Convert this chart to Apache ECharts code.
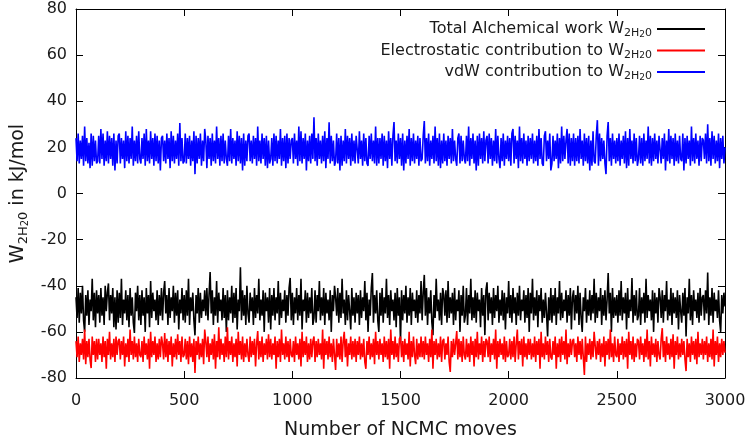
<!DOCTYPE html>
<html>
<head>
<meta charset="utf-8">
<script src="https://cdn.jsdelivr.net/npm/echarts@6/dist/echarts.min.js"></script>
<style>
html,body{margin:0;padding:0;background:#fff;}
#chart{width:747px;height:435px;}
</style>
</head>
<body>
<div id="chart"></div>
<script>
// Values read every 5 NCMC moves (index i -> move i*moveStep)
const moveStep = 5;

const totalWork = [
-45,-54,-41,-56,-43,-52,-40,-55,-60,-44,-53,-42,-57,-46,-51,-37,-55,-43,-58,-42,
-52,-44,-56,-41,-53,-45,-57,-40,-51,-43,-39,-55,-44,-52,-41,-58,-45,-59,-42,-56,
-43,-54,-37,-57,-46,-52,-42,-55,-44,-58,-41,-53,-45,-56,-60.5,-43,-51,-40,-55,-44,
-57,-42,-53,-45,-60,-41,-52,-44,-58,-38,-54,-43,-51,-46,-55,-42,-57,-44,-53,-41,
-55,-43,-38,-52,-44,-57,-41,-54,-45,-51,-40,-56,-43,-53,-42,-59,-46,-52,-41,-55,
-44,-56,-42,-53,-37,-57,-45,-51,-43,-55,-61.5,-44,-52,-41,-56,-43,-54,-46,-51,-42,
-53,-41,-55,-44,-34,-52,-42,-57,-45,-53,-38,-56,-43,-51,-46,-55,-41,-54,-44,-60,
-42,-55,-45,-52,-40,-56,-43,-54,-41,-59,-46,-51,-32,-55,-42,-53,-44,-57,-40,-52,
-56,-43,-51,-45,-57,-41,-54,-44,-52,-37,-55,-46,-53,-42,-60,-43,-51,-45,-56,-41,
-59,-44,-53,-41,-55,-45,-52,-38,-57,-43,-54,-46,-51,-42,-56,-44,-53,-41,-36.6,-55,
-43,-57,-45,-52,-41,-55,-44,-53,-37,-59,-46,-51,-42,-56,-43,-54,-45,-52,-41,-57,
-54,-42,-56,-44,-51,-38,-55,-45,-53,-41,-57,-43,-52,-46,-55,-42,-60,-44,-51,-40,
-45,-53,-41,-56,-43,-54,-37,-52,-46,-57,-42,-55,-44,-51,-59,-41,-53,-45,-56,-43,
-52,-44,-57,-42,-54,-45,-51,-38,-55,-43,-60,-46,-53,-41,-34.5,-56,-44,-52,-42,-55,
-60,-43,-53,-41,-56,-45,-52,-37,-54,-44,-57,-42,-51,-46,-55,-43,-58,-41,-53,-45,
-64.4,-42,-55,-44,-52,-40,-56,-45,-53,-41,-57,-43,-51,-46,-54,-42,-56,-44,-52,-38,
-55,-43,-35.3,-53,-41,-57,-45,-52,-42,-56,-61.4,-44,-54,-37,-51,-46,-55,-43,-57,-41,
-44,-53,-42,-56,-38,-54,-45,-52,-43,-57,-41,-55,-46,-51,-42,-60,-44,-53,-40,-56,
-53,-41,-57,-44,-52,-37,-55,-45,-54,-42,-56,-43,-51,-46,-58,-41,-53,-44,-61.4,-42,
-38.5,-55,-43,-52,-45,-57,-41,-54,-44,-51,-40,-56,-46,-53,-42,-55,-43,-59,-45,-52,
-38,-54,-44,-56,-41,-52,-45,-57,-43,-53,-40,-55,-46,-51,-42,-56,-44,-54,-41,-60,
-43,-52,-37,-55,-45,-53,-42,-58,-44,-51,-41,-56,-46,-54,-43,-52,-62,-45,-55,-41,
-56,-44,-53,-41,-57,-45,-52,-38,-55,-43,-54,-46,-51,-42,-56,-44,-53,-41,-59,-45,
-42,-55,-44,-52,-40,-57,-43,-54,-60,-45,-51,-41,-56,-46,-53,-42,-55,-44,-52,-37,
-56,-43,-54,-45,-51,-41,-57,-44,-53,-42,-55,-46,-34.5,-52,-43,-60,-41,-54,-45,-53,
-44,-56,-42,-53,-38,-55,-45,-52,-43,-59,-41,-54,-46,-51,-36.6,-56,-44,-53,-42,-55,
-53,-41,-57,-45,-52,-43,-56,-37,-54,-44,-51,-46,-55,-42,-60,-43,-52,-45,-56,-41,
-45,-54,-42,-56,-44,-51,-38,-55,-46,-53,-41,-57,-43,-52,-45,-54,-42,-59,-44,-51,
-56,-43,-53,-41,-62,-45,-52,-37,-55,-44,-57,-42,-51,-46,-54,-43,-56,-41,-53,-45,
-44,-55,-42,-52,-34.3,-57,-45,-53,-41,-56,-43,-51,-46,-54,-42,-55,-60,-44,-52,-43,
-49];

const electrostatic = [
-64,-71,-62,-73,-65,-70,-63,-72,-59,-74,-64,-71,-63,-72,-75.7,-62,-70,-64,-73,-63,
-72,-63,-70,-65,-73,-62,-71,-64,-76,-63,-70,-60,-72,-65,-71,-63,-73,-62,-70,-64,
-63,-72,-64,-70,-62,-75,-65,-71,-63,-73,-59,-70,-64,-72,-62,-71,-65,-73,-63,-70,
-71,-64,-73,-62,-70,-65,-72,-63,-76,-60,-71,-64,-70,-62,-73,-65,-72,-63,-71,-62,
-65,-72,-60.5,-71,-63,-73,-64,-70,-62,-75,-65,-71,-63,-72,-61,-70,-64,-73,-62,-71,
-70,-63,-72,-64,-74,-62,-71,-65,-73,-63,-77.8,-64,-70,-62,-72,-65,-71,-63,-74,-59,
-64,-71,-62,-73,-65,-70,-63,-72,-61,-76,-64,-71,-58,-72,-63,-70,-65,-73,-62,-71,
-58,-72,-64,-70,-62,-73,-65,-71,-63,-75,-60,-70,-64,-72,-62,-73,-65,-71,-63,-70,
-73,-62,-71,-64,-70,-63,-75,-65,-59.6,-72,-64,-71,-62,-73,-65,-70,-63,-72,-61,-71,
-63,-72,-65,-70,-62,-76,-64,-71,-63,-73,-59,-70,-65,-72,-62,-71,-64,-73,-63,-70,
-71,-64,-73,-62,-70,-65,-72,-63,-75,-60,-71,-64,-70,-62,-73,-65,-72,-63,-71,-64,
-62,-73,-64,-71,-63,-70,-65,-72,-59,-76,-63,-70,-64,-72,-62,-71,-65,-73,-63,-70,
-76.5,-63,-71,-65,-72,-62,-73,-64,-60,-71,-63,-75,-65,-70,-62,-72,-64,-71,-63,-73,
-64,-70,-62,-72,-65,-71,-63,-73,-76,-64,-70,-62,-72,-65,-71,-63,-74,-60,-70,-64,
-72,-63,-70,-65,-73,-62,-71,-64,-72,-63,-76,-59,-70,-64,-72,-62,-71,-65,-73,-63,
-62,-71,-64,-73,-63,-70,-65,-72,-60,-75,-64,-71,-62,-70,-74,-63,-72,-65,-71,-62,
-71,-64,-72,-62,-70,-65,-73,-63,-71,-59,-76,-64,-70,-63,-72,-65,-71,-62,-73,-64,
-63,-72,-65,-70,-62,-73,-77.4,-64,-71,-63,-70,-65,-59.6,-72,-63,-71,-64,-73,-62,-70,
-72,-63,-71,-65,-73,-62,-70,-64,-75,-63,-71,-60,-72,-65,-70,-62,-73,-64,-71,-63,
-64,-71,-62,-73,-65,-70,-63,-72,-59,-76,-64,-71,-63,-70,-65,-72,-62,-73,-64,-71,
-70,-63,-72,-64,-71,-62,-73,-65,-59,-72,-64,-70,-63,-75,-62,-71,-65,-72,-63,-70,
-63,-72,-65,-71,-62,-73,-64,-70,-63,-76,-60,-71,-65,-72,-62,-70,-64,-73,-63,-71,
-72,-64,-70,-62,-76,-65,-71,-63,-73,-62,-70,-64,-72,-59,-74,-65,-71,-63,-70,-64,
-63,-71,-65,-73,-62,-70,-64,-72,-63,-71,-78.7,-62,-73,-65,-70,-63,-72,-64,-71,-60,
-60.5,-72,-64,-70,-63,-73,-65,-71,-62,-75,-64,-70,-63,-72,-59,-71,-65,-73,-62,-70,
-71,-63,-73,-65,-70,-62,-72,-64,-71,-63,-76,-60,-70,-64,-72,-62,-73,-65,-71,-63,
-64,-72,-62,-70,-65,-73,-63,-71,-59,-72,-64,-75,-62,-70,-65,-71,-63,-73,-64,-70,
-72,-63,-58.4,-71,-64,-73,-62,-70,-65,-72,-63,-71,-61,-76,-64,-70,-62,-72,-65,-71,
-63,-70,-64,-72,-77,-63,-71,-65,-73,-62,-70,-64,-72,-63,-74,-60,-71,-65,-70,-63,
-72,-64,-70,-62,-73,-65,-71,-63,-72,-59,-75,-64,-70,-62,-73,-65,-71,-63,-70,-64,
-69];

const vdw = [
24,14,26,13,23,15,25,12,29,14,24,13,22,11,26,12,25,14,23,13,
14,25,13,28,15,26,12,23,14,27,13,25,15,24,12,26,10,23,13,25,
26,13,24,15,23,11,27,14,25,13,24,15,29,12,23,14,25,13,27,15,
13,24,15,26,12,28,14,23,13,27,15,24,12,26,14,25,13,23,10,24,
25,14,23,13,26,15,24,11,27,14,25,13,23,15,26,12,30.6,14,24,13,
14,26,13,24,15,25,12,23,14,27,8.4,25,13,24,15,26,12,23,14,28,
23,11,25,15,24,12,26,14,23,13,29,15,24,12,25,14,26,13,23,15,
12,25,14,28,13,24,15,23,12,27,14,25,13,24,10,26,12,23,14,25,
26,14,23,13,25,15,24,12,29,14,23,13,26,15,24,12,25,11,23,13,
15,24,12,26,14,25,13,23,15,28,12,24,14,25,11,26,13,24,15,23,
24,13,26,15,23,12,29,14,27,13,24,15,26,10,23,14,25,13,26,15,
33,14,24,12,26,15,23,13,25,14,27,11,24,15,30.9,13,25,14,23,12,
14,26,13,24,10,25,12,23,14,28,13,25,15,24,12,26,14,23,13,25,
25,13,27,15,23,12,26,14,24,13,12,25,15,26,14,23,13,29,12,24,
13,24,15,26,12,25,14,23,11,27,15,24,12,25,31,14,23,13,26,15,
24,12,26,10,23,13,25,15,28,12,24,14,26,13,23,15,25,12,24,14,
15,25,31.4,13,24,14,26,12,23,15,25,13,29,14,24,12,26,11,23,13,
26,14,23,12,25,15,24,13,28,14,23,15,12,24,26,13,25,14,23,15,
13,25,14,29,12,24,15,26,13,23,10,25,12,26,15,24,13,27,14,23,
25,13,26,15,24,12,23,14,28,13,25,15,11,24,14,26,12,23,15,25,
14,24,12,26,28,13,25,15,23,11,29,14,24,13,26,15,23,12,25,14,
24,15,26,13,23,14,25,12,28,15,24,13,12,25,27,14,23,15,26,10,
13,25,14,23,15,26,11,24,13,29,14,25,15,23,28,13,26,12,24,14,
26,12,24,14,25,13,28,15,23,12,26,14,24,13,25,10,23,12,27,14,
13,25,31.8,12,26,14,24,15,23,13,8.4,25,31,14,24,12,26,15,23,13,
24,14,26,12,23,15,25,13,27,11,24,12,28,15,23,13,26,14,24,12,
15,25,13,24,12,26,14,23,15,29,13,25,12,24,14,26,15,23,13,25,
25,13,24,15,26,10,23,14,28,13,25,15,24,12,26,14,23,13,25,15,
14,26,10,24,13,25,15,23,12,29,14,24,13,26,15,23,12,25,14,24,
23,15,26,13,30,14,24,12,27,15,25,13,23,14,26,11,24,15,25,13,
20];

const xTicks = {min: 0, max: 3000, interval: 500};
const yTicks = {min: -80, max: 80, interval: 20};

const seriesNames = ['Total Alchemical work', 'Electrostatic contribution to', 'vdW contribution to'];
const seriesColors = ['#000000', '#ff0000', '#0000ff'];
const seriesValues = [totalWork, electrostatic, vdw];

const FONT = 'DejaVu Sans';
const TXT = '#1a1a1a';

function toPairs(vals) {
  return vals.map((v, i) => [i * moveStep, v]);
}

const richLegend = {
  t: {fontFamily: FONT, fontSize: 16, color: TXT, lineHeight: 20},
  s: {fontFamily: FONT, fontSize: 11, color: TXT, lineHeight: 9, verticalAlign: 'bottom'},
  ss: {fontFamily: FONT, fontSize: 9, color: TXT, lineHeight: 3, verticalAlign: 'bottom'}
};
const richName = {
  t: {fontFamily: FONT, fontSize: 19, color: TXT, lineHeight: 23},
  s: {fontFamily: FONT, fontSize: 13, color: TXT, lineHeight: 11, verticalAlign: 'bottom'},
  ss: {fontFamily: FONT, fontSize: 10, color: TXT, lineHeight: 4, verticalAlign: 'bottom'}
};

function axisCommon() {
  return {
    axisLine: {show: true, onZero: false, lineStyle: {color: '#000', width: 1}},
    axisTick: {show: true, inside: true, length: 7, lineStyle: {color: '#000'}},
    splitLine: {show: false}
  };
}

const chart = echarts.init(document.getElementById('chart'), null, {renderer: 'canvas'});
chart.setOption({
  animation: false,
  backgroundColor: '#fff',
  grid: {left: 76, right: 22, top: 9, bottom: 57, containLabel: false, outerBoundsMode: 'none'},
  legend: {
    orient: 'vertical',
    right: 42,
    top: 21,
    padding: 0,
    align: 'right',
    icon: 'rect',
    itemWidth: 48,
    itemHeight: 2,
    itemGap: 3.5,
    selectedMode: false,
    data: seriesNames,
    textStyle: {fontFamily: FONT, fontSize: 16, color: TXT, rich: richLegend},
    formatter: function (name) {
      return '{t|' + name + ' W}{s|2H}{ss|2}{s|0}';
    }
  },
  xAxis: [
    Object.assign({
      type: 'value', position: 'bottom',
      min: xTicks.min, max: xTicks.max, interval: xTicks.interval,
      name: 'Number of NCMC moves', nameLocation: 'middle', nameGap: 43,
      nameTextStyle: {fontFamily: FONT, fontSize: 19, color: TXT},
      axisLabel: {fontFamily: FONT, fontSize: 16, color: TXT, margin: 15, formatter: v => String(v)}
    }, axisCommon()),
    Object.assign({
      type: 'value', position: 'top',
      min: xTicks.min, max: xTicks.max, interval: xTicks.interval,
      axisLabel: {show: false}
    }, axisCommon())
  ],
  yAxis: [
    Object.assign({
      type: 'value', position: 'left',
      min: yTicks.min, max: yTicks.max, interval: yTicks.interval,
      name: '{t|W}{s|2H}{ss|2}{s|0}{t| in kJ/mol}', nameLocation: 'middle', nameGap: 46, nameRotate: 90,
      nameTextStyle: {fontFamily: FONT, fontSize: 19, color: TXT, rich: richName},
      axisLabel: {fontFamily: FONT, fontSize: 16, color: TXT, margin: 9, formatter: v => String(v)}
    }, axisCommon()),
    Object.assign({
      type: 'value', position: 'right',
      min: yTicks.min, max: yTicks.max, interval: yTicks.interval,
      axisLabel: {show: false}
    }, axisCommon())
  ],
  series: seriesValues.map((vals, k) => ({
    name: seriesNames[k],
    type: 'line',
    xAxisIndex: 0,
    yAxisIndex: 0,
    symbol: 'none',
    showSymbol: false,
    sampling: 'none',
    data: toPairs(vals),
    lineStyle: {color: seriesColors[k], width: 1.6},
    itemStyle: {color: seriesColors[k]},
    emphasis: {disabled: true}
  }))
});
</script>
</body>
</html>
